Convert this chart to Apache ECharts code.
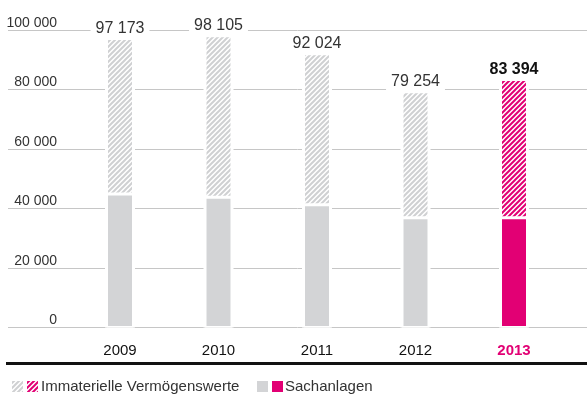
<!DOCTYPE html>
<html>
<head>
<meta charset="utf-8">
<script src="https://cdn.jsdelivr.net/npm/echarts@6/dist/echarts.min.js"></script>
<style>html,body{margin:0;padding:0;background:#fff}#c{width:587px;height:394px}</style>
</head>
<body>
<div id="c"></div>
<script>
var categories = ['2009', '2010', '2011', '2012', '2013'];
var totals = [97173, 98105, 92024, 79254, 83394];
var sachanlagen = [44900, 43750, 41300, 36900, 36900];
var immateriell = [52273, 54355, 50724, 42354, 46494];
var yTicks = [0, 20000, 40000, 60000, 80000, 100000];
var seriesNames = ['Immaterielle Vermögenswerte', 'Sachanlagen'];

var GRAY = '#d3d4d6';
var PINK = '#e20074';
var FONT = 'Liberation Sans, Arial, sans-serif';

function hatch(color) {
  var c = document.createElement('canvas');
  c.width = 5; c.height = 5;
  var g = c.getContext('2d');
  g.fillStyle = '#ffffff';
  g.fillRect(0, 0, 5, 5);
  g.strokeStyle = color;
  g.lineWidth = 2;
  g.beginPath();
  for (var k = -5; k <= 5; k += 5) {
    g.moveTo(k - 1, 6);
    g.lineTo(k + 6, -1);
  }
  g.stroke();
  return { image: c, repeat: 'repeat' };
}
var grayHatch = hatch('#cfd0d2');
var pinkHatch = hatch(PINK);

function fmt(v) {
  return String(v).replace(/\B(?=(\d{3})+(?!\d))/g, ' ');
}

var chart = echarts.init(document.getElementById('c'), null, { renderer: 'canvas' });

var last = categories.length - 1;
var sachData = sachanlagen.map(function (v, i) {
  return i === last ? { value: v, itemStyle: { color: PINK } } : v;
});
var immData = immateriell.map(function (v, i) {
  var item = { value: v };
  if (i === last) {
    item.itemStyle = { color: pinkHatch };
    item.label = { fontWeight: 'bold', color: '#111' };
  }
  return item;
});

var option = {
  animation: false,
  textStyle: { fontFamily: FONT },
  grid: [
    { left: 70.75, right: 23.75, top: 30, bottom: 66.5 },
    { left: 8, right: 0, top: 30, bottom: 66.5 }
  ],
  xAxis: [
    {
      type: 'category', gridIndex: 0, data: categories,
      axisLine: { show: false }, axisTick: { show: false },
      axisLabel: {
        margin: 16, fontSize: 15, color: '#111',
        formatter: function (v, i) { return i === last ? '{h|' + v + '}' : '{n|' + v + '}'; },
        rich: {
          n: { fontSize: 15, color: '#111', fontFamily: FONT },
          h: { fontSize: 15, color: PINK, fontWeight: 'bold', fontFamily: FONT }
        }
      }
    },
    { type: 'value', gridIndex: 1, show: false, min: 0, max: 1 },
    { type: 'category', gridIndex: 0, data: categories, show: false }
  ],
  yAxis: [
    { type: 'value', gridIndex: 0, min: yTicks[0], max: yTicks[yTicks.length - 1], show: false, splitLine: { show: false } },
    {
      type: 'value', gridIndex: 1, min: yTicks[0], max: yTicks[yTicks.length - 1], interval: yTicks[1] - yTicks[0],
      axisLine: { show: false }, axisTick: { show: false },
      splitLine: { lineStyle: { color: '#c6c6c6', width: 1 } },
      axisLabel: {
        inside: true, margin: 49, align: 'right', verticalAlign: 'bottom',
        fontSize: 14, color: '#333', padding: [0, 0, 0, 0],
        formatter: function (v) { return fmt(v); }
      }
    }
  ],
  series: [
    {
      name: 'gap', type: 'bar', xAxisIndex: 2, yAxisIndex: 0,
      barWidth: 30, data: totals, silent: true,
      itemStyle: { color: '#fff' }
    },
    {
      name: seriesNames[1], type: 'bar', stack: 'a', xAxisIndex: 0, yAxisIndex: 0,
      barWidth: 27, data: sachData,
      itemStyle: { color: GRAY, borderColor: '#fff', borderWidth: 1.5 }
    },
    {
      name: seriesNames[0], type: 'bar', stack: 'a', xAxisIndex: 0, yAxisIndex: 0,
      barWidth: 27, data: immData,
      itemStyle: { color: grayHatch, borderColor: '#fff', borderWidth: 1.5 },
      label: {
        show: true, position: 'top', distance: 1,
        fontSize: 16, color: '#333', backgroundColor: '#fff', padding: [1, 5],
        formatter: function (p) { return fmt(totals[p.dataIndex]); }
      }
    }
  ],
  graphic: [
    { type: 'line', shape: { x1: 6, y1: 363.5, x2: 587, y2: 363.5 }, style: { stroke: '#111', lineWidth: 3 } },
    { type: 'rect', shape: { x: 12, y: 381, width: 11, height: 11 }, style: { fill: grayHatch } },
    { type: 'rect', shape: { x: 27, y: 381, width: 11, height: 11 }, style: { fill: pinkHatch } },
    { type: 'text', x: 41, y: 386.5, style: { text: seriesNames[0], font: '15px ' + FONT, fill: '#333', verticalAlign: 'middle' } },
    { type: 'rect', shape: { x: 257, y: 381, width: 11, height: 11 }, style: { fill: GRAY } },
    { type: 'rect', shape: { x: 272, y: 381, width: 11, height: 11 }, style: { fill: PINK } },
    { type: 'text', x: 285, y: 386.5, style: { text: seriesNames[1], font: '15px ' + FONT, fill: '#333', verticalAlign: 'middle' } }
  ]
};
chart.setOption(option);
</script>
</body>
</html>
